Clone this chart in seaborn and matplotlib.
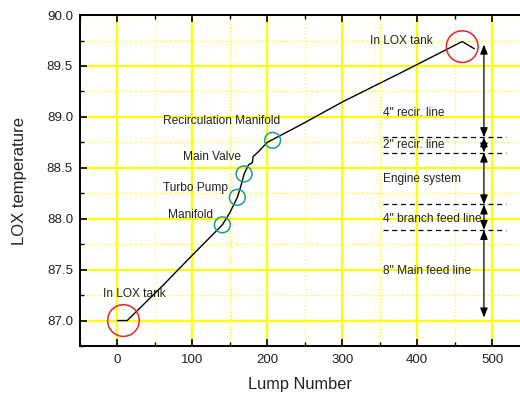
import matplotlib
matplotlib.use('Agg')
import matplotlib.pyplot as plt
from matplotlib.ticker import MultipleLocator
import seaborn as sns

# LOX temperature along the lump network
lump = [0, 13, 60, 97, 140, 150, 160, 165, 169, 175, 180, 181, 187, 200, 213, 244, 301, 380, 460, 476]
temp = [87.0, 87.0, 87.34, 87.62, 87.94, 88.06, 88.21, 88.33, 88.44, 88.53, 88.55, 88.61, 88.65,
        88.75, 88.80, 88.92, 89.15, 89.44, 89.74, 89.67]

# highlighted components (teal) and tank points (red)
comp_x = [140, 160, 169, 207]
comp_y = [87.94, 88.21, 88.44, 88.77]
tank_x = [8, 460]
tank_y = [87.0, 89.69]

# text labels near the curve
label_text = ['In LOX tank', 'Manifold', 'Turbo Pump', 'Main Valve', 'Recirculation Manifold', 'In LOX tank']
label_x = [-19, 67, 61, 87, 61, 337]
label_y = [87.26, 88.04, 88.30, 88.61, 88.96, 89.75]

# line sections on the right
section_names = ['4" recir. line', '2" recir. line', 'Engine system', '4" branch feed line', '8" Main feed line']
section_y = [89.04, 88.72, 88.39, 88.00, 87.49]
bounds = [89.71, 88.80, 88.65, 88.14, 87.89, 87.03]
dash_y = [88.80, 88.65, 88.14, 87.89]

sns.set_style('white')
plt.rcParams['font.family'] = ['Liberation Sans', 'DejaVu Sans']

fig = plt.figure(figsize=(5.2, 3.94), dpi=100)
ax = fig.add_axes([0.1538, 0.1218, 0.846, 0.840])

sns.lineplot(x=lump, y=temp, ax=ax, color='black', lw=1, sort=False, estimator=None)
sns.scatterplot(x=comp_x, y=comp_y, ax=ax, s=130, facecolor='none', edgecolor='#1a9a9a', linewidth=1.1, zorder=5)
sns.scatterplot(x=tank_x, y=tank_y, ax=ax, s=520, facecolor='none', edgecolor='#ee2222', linewidth=1.1, zorder=5)

for t, x, y in zip(label_text, label_x, label_y):
    ax.text(x, y, t, fontsize=8.6, color='#222222', ha='left', va='center')

for t, y in zip(section_names, section_y):
    ax.text(355, y, t, fontsize=8.6, color='#222222', ha='left', va='center')

for y in dash_y:
    ax.plot([355, 519], [y, y], color='black', ls=(0, (4, 3)), lw=0.9)

# double-headed arrows spanning each section
for top, bot in zip(bounds[:-1], bounds[1:]):
    ax.annotate('', xy=(489, top), xytext=(489, bot),
                arrowprops=dict(arrowstyle='<|-|>,head_width=0.28,head_length=0.7', color='black', lw=0.9,
                                shrinkA=0, shrinkB=0, mutation_scale=8))

ax.set_xlim(-50, 537)
ax.set_ylim(86.75, 90.0)
ax.xaxis.set_major_locator(MultipleLocator(100))
ax.xaxis.set_minor_locator(MultipleLocator(50))
ax.yaxis.set_major_locator(MultipleLocator(0.5))
ax.yaxis.set_minor_locator(MultipleLocator(0.25))
ax.yaxis.set_major_formatter(matplotlib.ticker.FormatStrFormatter('%.1f'))

ax.grid(which='major', color='#ffff00', lw=1.6, ls='-')
ax.grid(which='minor', color='#ffff00', lw=0.9, ls=':')
ax.set_axisbelow(True)

ax.tick_params(which='both', direction='in', top=True, bottom=True, left=True, right=False,
               color='black', labelsize=9.6, labelcolor='#222222')
ax.tick_params(which='major', length=5, width=1.2)
ax.tick_params(which='minor', length=3, width=1)
ax.tick_params(axis='x', pad=6)
ax.tick_params(axis='y', pad=5)

for side in ['left', 'bottom', 'top']:
    ax.spines[side].set_color('black')
    ax.spines[side].set_linewidth(1.4)
ax.spines['right'].set_visible(False)

ax.set_xlabel('Lump Number', fontsize=11.8, color='#222222', labelpad=8)
ax.set_ylabel('LOX temperature', fontsize=12, color='#222222', labelpad=14)

fig.savefig('out.png', dpi=100)
